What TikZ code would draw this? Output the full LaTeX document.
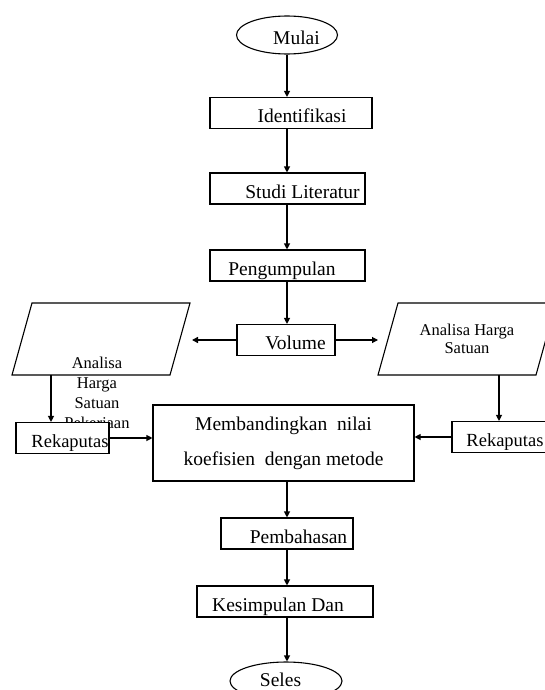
\documentclass[tikz,border=0pt]{standalone}
\usepackage{fontspec}
\setmainfont{Liberation Serif}
\usetikzlibrary{shapes,arrows.meta,positioning}

\begin{document}
\begin{tikzpicture}[x=1pt,y=-1pt,line width=1.1pt,>={Triangle[length=6pt,width=6pt]},
    box/.style={draw,inner sep=0pt,minimum height=31pt,text height=19pt,text depth=0pt,font=\fontsize{19.5}{23}\selectfont},
    rekap/.style={box,font=\fontsize{18.5}{22}\selectfont},
    oval/.style={box,ellipse,minimum height=38pt},
    lbl/.style={inner sep=0pt,align=center,font=\fontsize{16.5}{20}\selectfont}]
  \clip (0,0) rectangle (545,690);
  \coordinate(ax) at (287,0);
  % main column
  \node(mulai)[oval,minimum width=101pt] at (287,35) {\hspace*{19pt}Mulai};
  \node(ident)[box,minimum width=162pt] at (291,113) {\hspace*{22pt}Identifikasi};
  \node(studi)[box,minimum width=155pt] at (287.5,188.5) {\hspace*{30pt}Studi Literatur};
  \node(kumpul)[box,minimum width=155pt] at (287.5,265.5) {\hspace*{-11pt}Pengumpulan};
  \node(vol)[box,minimum width=98pt] at (286,340) {\hspace*{19pt}Volume};
  \node(banding)[draw,inner sep=0pt,minimum width=261pt,minimum height=76pt,align=center,
    font=\fontsize{19.5}{35}\selectfont] at (283.5,443) {Membandingkan\ \ nilai\\koefisien\ \ dengan metode};
  \node(bahas)[box,minimum width=132pt] at (287,533.5) {\hspace*{23pt}Pembahasan};
  \node(simpul)[box,minimum width=176pt] at (285,601.5) {\hspace*{-14pt}Kesimpulan Dan};
  \node(seles)[oval,minimum width=112pt,text height=10pt] at (286,681) {\hspace*{-11pt}Seles};
  % left branch
  \draw (32,303) -- (190,303) -- (170,375) -- (12,375) -- cycle;
  \coordinate(paraL) at (51,375);
  \coordinate(volL) at (192,340);
  \node(ahsL)[lbl,anchor=north] at (97,356.7) {Analisa\\Harga\\Satuan\\Pekerjaan};
  \node(rekL)[rekap,fill=white,minimum width=93pt] at (62.5,438) {\hspace*{15pt}Rekaputas};
  % right branch
  \draw (398,303) -- (556,303) -- (536,375) -- (378,375) -- cycle;
  \coordinate(paraR) at (499,375);
  \coordinate(volR) at (378,340);
  \node(ahsR)[lbl,anchor=north,font=\fontsize{16.5}{18}\selectfont] at (467,323.7) {Analisa Harga\\Satuan};
  \node(rekR)[rekap,minimum width=95pt] at (499.5,437) {\hspace*{11pt}Rekaputas};
  % arrows
  \draw[->] (mulai.south) -- (ax |- ident.north);
  \draw[->] (ax |- ident.south) -- (ax |- studi.north);
  \draw[->] (ax |- studi.south) -- (ax |- kumpul.north);
  \draw[->] (ax |- kumpul.south) -- (ax |- vol.north);
  \draw[->,line width=1.6pt] (vol.west) -- (volL);
  \draw[->] (vol.east) -- (volR);
  \draw[->] (paraL) -- (paraL |- rekL.north);
  \draw[->] (paraR) -- (paraR |- rekR.north);
  \draw[->] (rekL.east) -- (rekL.east -| banding.west);
  \draw[->] (rekR.west) -- (rekR.west -| banding.east);
  \draw[->] (ax |- banding.south) -- (ax |- bahas.north);
  \draw[->] (ax |- bahas.south) -- (ax |- simpul.north);
  \draw[->] (ax |- simpul.south) -- (ax |- seles.north);
\end{tikzpicture}
\end{document}
